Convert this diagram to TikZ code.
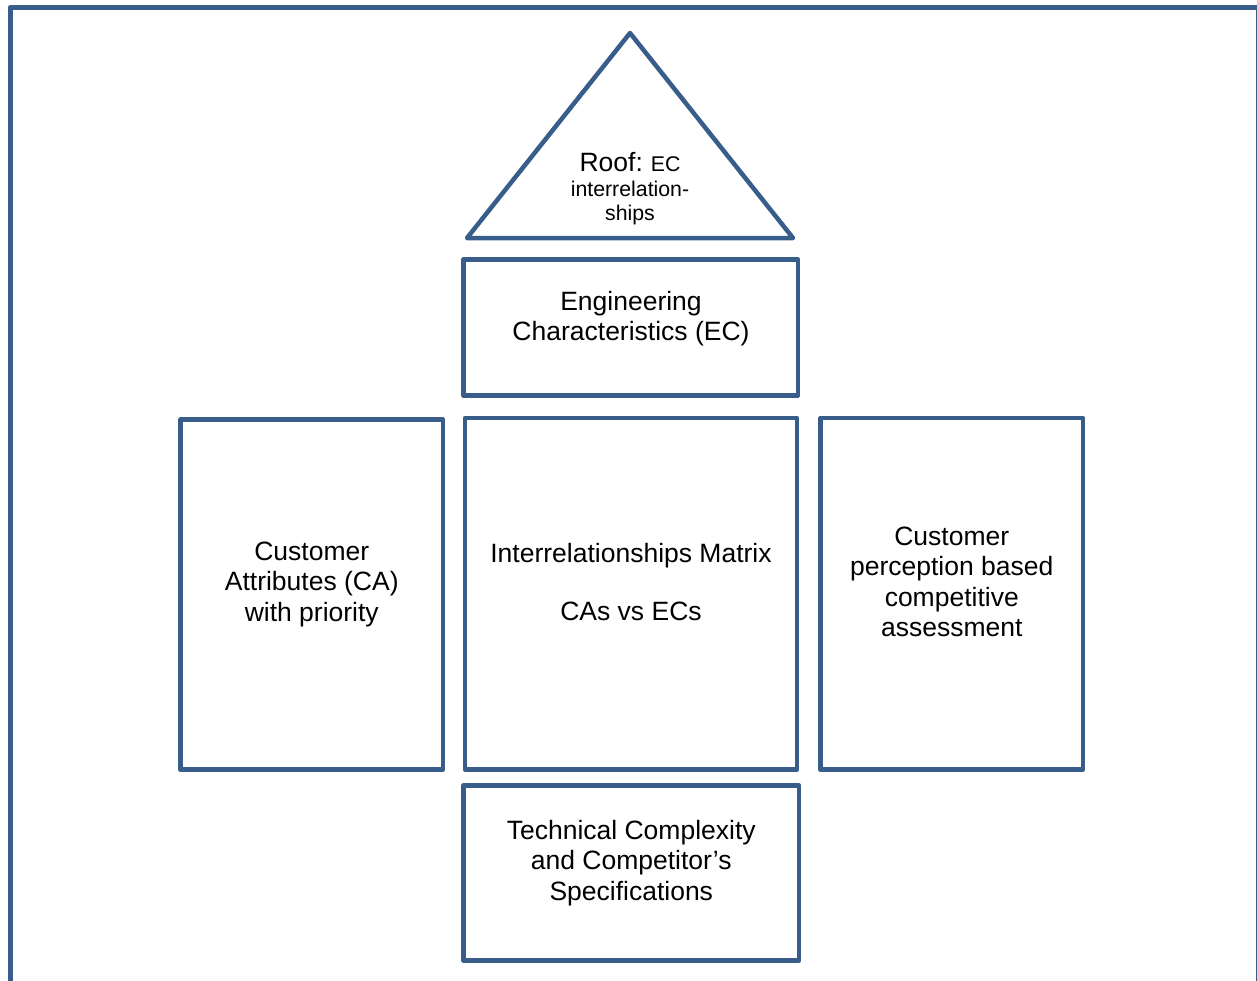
\documentclass[tikz,border=0pt]{standalone}
\usepackage{fontspec}
\setmainfont{Liberation Sans}
\definecolor{hqblue}{HTML}{385D8A}
\begin{document}
\begin{tikzpicture}[x=1pt,y=-1pt,
  part/.style={draw=hqblue, line width=4.5pt, line join=round, rectangle,
    inner sep=0pt, outer sep=0pt},
  caption/.style={align=center, inner sep=0pt,
    font=\fontsize{26.5}{30.5}\selectfont}]
\useasboundingbox (0,0) rectangle (1257,980);
% outer frame (runs off the page at the right and bottom)
\draw[hqblue, line width=5.5pt, line join=round]
  (10.5,995) -- (10.5,7.5) -- (1258.5,7.5) -- (1258.5,995);

% roof
\coordinate (roofL) at (467,238);
\coordinate (roofT) at (630,33);
\coordinate (roofR) at (793,238);
\draw[hqblue, line width=4.5pt, line join=round] (roofL) -- (roofT) -- (roofR) -- cycle;
\node[caption, font=\fontsize{21.3}{24}\selectfont] (roofText) at (630,189)
  {{\fontsize{26.5}{30.5}\selectfont Roof:} EC\\[1pt] interrelation-\\ ships};

% house parts
\node[part, minimum width=334.5pt, minimum height=136pt] (ec) at (630.75,327.5) {};
\node[part, minimum width=262.5pt, minimum height=350pt] (ca) at (311.75,594.5) {};
\node[part, minimum width=332pt, minimum height=351.5pt] (mx) at (631,593.75) {};
\node[part, minimum width=262.5pt, minimum height=351.5pt] (cp) at (951.75,593.75) {};
\node[part, minimum width=335.5pt, minimum height=175pt] (tc) at (631.25,873) {};

% captions
\node[caption] (ecText) at (631,318.4) {Engineering\\ Characteristics (EC)};
\node[caption] (caText) at (311.75,584.2) {Customer\\ Attributes (CA)\\ with priority};
\node[caption] (mxText) at (631,581.9) {Interrelationships Matrix\\[28pt] CAs vs ECs};
\node[caption] (cpText) at (951.75,581.9) {Customer\\ perception based\\ competitive\\ assessment};
\node[caption] (tcText) at (631.25,862.7) {Technical Complexity\\ and Competitor’s\\ Specifications};
\end{tikzpicture}
\end{document}
